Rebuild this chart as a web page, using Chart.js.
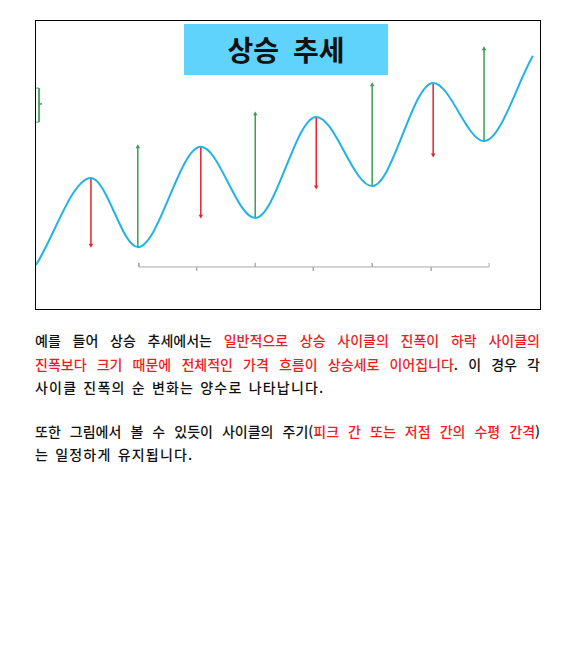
<!DOCTYPE html>
<html lang="ko">
<head>
<meta charset="utf-8">
<script src="https://cdn.jsdelivr.net/npm/chart.js@4.4.1/dist/chart.umd.min.js"></script>
<style>
  body { margin: 0; background: #fff; width: 577px; height: 645px; position: relative; }
  #frame { position: absolute; left: 35px; top: 20px; width: 504px; height: 288px; border: 1px solid #000; }
  #frame canvas { display: block; }
  #title {
    position: absolute; left: 148px; top: 3px; width: 204px; height: 51px;
    background: #5fd3fb; color: #111; font-family: "Noto Sans CJK KR", sans-serif;
    font-weight: 700; font-size: 28px; line-height: 51px; text-align: center; word-spacing: 6px;
  }
  #text { position: absolute; left: 35px; top: 329px; width: 505px;
    font-family: "Noto Sans CJK KR", sans-serif; font-size: 14px; font-weight: 500; color: #111;
    letter-spacing: 1.2px; word-spacing: 1px; }
  .line { height: 23.5px; line-height: 23.5px; white-space: nowrap; }
  .full { text-align: justify; text-align-last: justify; letter-spacing: 0; }
  .gap { height: 20px; }
  .red { color: #ee1c25; }
</style>
</head>
<body>
<div id="frame">
  <canvas id="Chart" width="504" height="288"></canvas>
  <div id="title">상승 추세</div>
</div>
<div id="text">
  <div class="line full">예를 들어 상승 추세에서는 <span class="red">일반적으로 상승 사이클의 진폭이 하락 사이클의</span></div>
  <div class="line full"><span class="red">진폭보다 크기 때문에 전체적인 가격 흐름이 상승세로 이어집니다</span>. 이 경우 각</div>
  <div class="line">사이클 진폭의 순 변화는 양수로 나타납니다.</div>
  <div class="gap"></div>
  <div class="line full">또한 그림에서 볼 수 있듯이 사이클의 주기(<span class="red">피크 간 또는 저점 간의 수평 간격</span>)</div>
  <div class="line">는 일정하게 유지됩니다.</div>
</div>
<script>
// price curve: start, peaks and troughs, end (x = time 0..100, y = price 0..100)
const curveX = [0, 10.9, 20.2, 32.7, 43.5, 55.6, 66.7, 78.8, 88.9, 98.6];
const curveY = [15.3, 45.5, 21.5, 56.3, 31.6, 66.7, 42.7, 78.5, 58.3, 87.9];

// falling swings (red arrows, from peak down)
const peakX = [10.9, 32.7, 55.6, 78.8];
const peakY = [45.5, 56.3, 66.7, 78.5];
const dropTo = [22.2, 32.3, 42.4, 53.5];

// rising swings (green arrows, from trough up)
const troughX = [20.2, 43.5, 66.7, 88.9];
const troughY = [21.5, 31.6, 42.7, 58.3];
const riseTo = [56.3, 67.7, 77.8, 90.3];

// period bracket under the curve
const bracketX = [20.4, 31.9, 43.5, 55.0, 66.7, 78.4, 89.9];
const bracketDir = [1, -1, 1, -1, 1, -1, 1]; // tick up / down
const bracketY = 14.6;
const tickLen = 1.4;

// small amplitude bracket on the left edge
const sideX = [0, 0.6, 1.2];
const sideY = [76.7, 71.2, 64.9];

const RED = '#e8232b';
const GREEN = '#3a9e55';
const BLUE = '#22b2e6';
const GRAY = '#a8a8a8';

function arrowSet(x, from, to, color, down) {
    return {
        data: [{ x: x, y: from }, { x: x, y: to }],
        borderColor: color,
        backgroundColor: color,
        borderWidth: 1.5,
        pointRadius: [0, 2.6],
        pointStyle: 'triangle',
        rotation: down ? 180 : 0,
        pointBorderWidth: 0,
        tension: 0
    };
}

const datasets = [];

// curve
datasets.push({
    data: curveX.map((x, i) => ({ x: x, y: curveY[i] })),
    borderColor: BLUE,
    borderWidth: 2,
    pointRadius: 0,
    cubicInterpolationMode: 'monotone'
});

peakX.forEach((x, i) => datasets.push(arrowSet(x, peakY[i], dropTo[i], RED, true)));
troughX.forEach((x, i) => datasets.push(arrowSet(x, troughY[i], riseTo[i], GREEN, false)));

// bottom bracket: line with alternating ticks
const bracketPts = [];
bracketX.forEach((x, i) => {
    const tip = bracketY + bracketDir[i] * tickLen;
    if (i === 0) {
        bracketPts.push({ x: x, y: tip }, { x: x, y: bracketY });
    } else if (i === bracketX.length - 1) {
        bracketPts.push({ x: x, y: bracketY }, { x: x, y: tip });
    } else {
        bracketPts.push({ x: x, y: bracketY }, { x: x, y: tip }, { x: x, y: bracketY });
    }
});
datasets.push({
    data: bracketPts,
    borderColor: GRAY,
    borderWidth: 1,
    pointRadius: 0,
    tension: 0
});

// left bracket
datasets.push({
    data: [
        { x: sideX[0], y: sideY[0] }, { x: sideX[1], y: sideY[0] },
        { x: sideX[1], y: sideY[1] }, { x: sideX[2], y: sideY[1] },
        { x: sideX[1], y: sideY[1] }, { x: sideX[1], y: sideY[2] },
        { x: sideX[0], y: sideY[2] }
    ],
    borderColor: GREEN,
    borderWidth: 1,
    pointRadius: 0,
    tension: 0
});

const ctx = document.getElementById('Chart').getContext('2d');
const myChart = new Chart(ctx, {
    type: 'line',
    data: { datasets: datasets },
    options: {
        responsive: false,
        animation: false,
        layout: { padding: 0, autoPadding: false },
        plugins: { legend: { display: false }, tooltip: { enabled: false } },
        scales: {
            x: { type: 'linear', min: 0, max: 100, display: false },
            y: { type: 'linear', min: 0, max: 100, display: false }
        }
    }
});
</script>
</body>
</html>
